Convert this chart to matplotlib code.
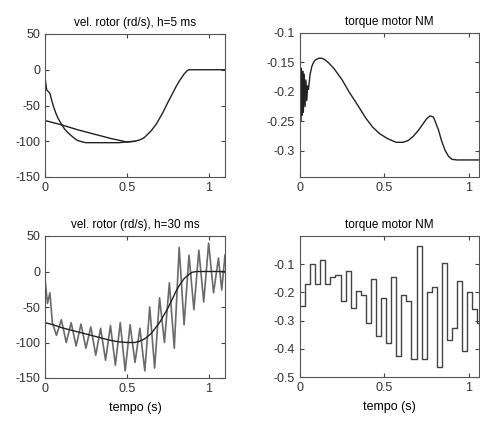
import numpy as np
import matplotlib
matplotlib.use('Agg')
import matplotlib.pyplot as plt

plt.rcParams['font.family'] = ['Liberation Sans', 'DejaVu Sans']
plt.rcParams['font.size'] = 9
plt.rcParams['axes.unicode_minus'] = False

# --- top left: rotor speed, h = 5 ms ---
t_ref5 = [0, 0.1, 0.2, 0.3, 0.4, 0.5, 0.55, 0.58, 0.6, 0.62, 0.65, 0.68, 0.7, 0.72,
          0.75, 0.78, 0.8, 0.82, 0.85, 0.87, 0.88, 1.1]
v_ref5 = [-71, -77, -84, -90, -96, -101, -100, -98, -96, -92, -85, -76, -68, -60,
          -46, -33, -24, -16, -6, -1, 0, 0]
t_act5 = [0, 0.01, 0.03, 0.04, 0.05, 0.065, 0.08, 0.1, 0.12, 0.14, 0.16, 0.18, 0.2,
          0.23, 0.25, 0.3, 0.45, 0.5, 0.55]
v_act5 = [-10, -28, -33, -42, -50, -60, -68, -76, -83, -88, -92, -96, -99,
          -101, -102, -102, -102, -101, -100]

# --- top right: torque, h = 5 ms ---
t_tq5 = [0, 0.004, 0.008, 0.012, 0.016, 0.02, 0.025, 0.03, 0.035, 0.04, 0.045, 0.05,
         0.06, 0.07, 0.08, 0.09, 0.11, 0.13, 0.15, 0.17, 0.2, 0.25, 0.29, 0.34, 0.39,
         0.43, 0.47, 0.52, 0.57, 0.61, 0.64, 0.67, 0.7, 0.73, 0.75, 0.77, 0.79, 0.8,
         0.82, 0.84, 0.86, 0.88, 0.9, 0.93, 1.1]
q_tq5 = [-0.17, -0.25, -0.16, -0.24, -0.165, -0.235, -0.17, -0.225, -0.18, -0.215, -0.19, -0.196,
         -0.17, -0.157, -0.15, -0.146, -0.143, -0.143, -0.146, -0.151, -0.16, -0.18, -0.2, -0.222, -0.245,
         -0.26, -0.271, -0.28, -0.286, -0.286, -0.283, -0.276, -0.266, -0.254, -0.246, -0.241, -0.243, -0.25,
         -0.265, -0.285, -0.3, -0.31, -0.315, -0.316, -0.316]

# --- bottom left: rotor speed, h = 30 ms ---
t_ref30 = [0, 0.05, 0.1, 0.15, 0.2, 0.25, 0.3, 0.35, 0.4, 0.45, 0.5, 0.55, 0.58, 0.6,
           0.62, 0.65, 0.68, 0.7, 0.72, 0.75, 0.78, 0.8, 0.82, 0.85, 0.88, 0.9, 0.93, 1.1]
v_ref30 = [-72, -75, -79, -82, -85, -88, -91, -94, -97, -99, -100, -100, -98, -96,
           -93, -87, -78, -72, -64, -52, -38, -28, -20, -10, -4, -1, 0, 0]
t_act30 = [0, 0.015, 0.03, 0.045, 0.07, 0.10, 0.13, 0.16, 0.19, 0.22, 0.25, 0.28, 0.31,
           0.34, 0.37, 0.40, 0.43, 0.46, 0.49, 0.52, 0.55, 0.58, 0.61, 0.64, 0.67,
           0.70, 0.73, 0.76, 0.79, 0.82, 0.85, 0.88, 0.91, 0.94, 0.97, 1.00, 1.03,
           1.06, 1.08, 1.1]
v_act30 = [-10, -45, -30, -72, -90, -68, -100, -72, -105, -74, -108, -78, -118,
           -80, -125, -76, -132, -72, -140, -75, -128, -80, -140, -50, -136,
           -37, -100, -16, -108, 34, -75, 23, -54, 30, -43, 40, -30,
           19, -26, 23]

# --- bottom right: torque, h = 30 ms (zero-order hold) ---
q_tq30 = [-0.248, -0.171, -0.10, -0.17, -0.085, -0.17, -0.145, -0.14, -0.23, -0.125,
          -0.254, -0.195, -0.21, -0.308, -0.153, -0.355, -0.22, -0.379, -0.145, -0.426,
          -0.21, -0.23, -0.436, -0.035, -0.436, -0.20, -0.18, -0.466, -0.094, -0.37,
          -0.325, -0.16, -0.409, -0.20, -0.26, -0.31]
h30 = 0.03
t_tq30 = np.arange(len(q_tq30) + 1) * h30
q_tq30_edges = q_tq30 + [q_tq30[-1]]

W, H = 480, 422
fig = plt.figure(figsize=(W / 100, H / 100), dpi=100)


def box(x0, x1, ytop, ybot):
    return [x0 / W, 1 - ybot / H, (x1 - x0) / W, (ybot - ytop) / H]


ax1 = fig.add_axes(box(45, 225, 34, 177))
ax2 = fig.add_axes(box(300, 479, 33, 177))
ax3 = fig.add_axes(box(45, 225, 236, 378))
ax4 = fig.add_axes(box(300, 479, 236, 377))

lc = '#222222'
ax1.plot(t_ref5, v_ref5, color=lc, lw=1.0)
ax1.plot(t_act5, v_act5, color=lc, lw=1.0)
ax1.set_ylim(-150, 50)
ax1.set_xlim(0, 1.1)
ax1.set_title('vel. rotor (rd/s), h=5 ms', fontsize=8.5, pad=6)

ax2.plot(t_tq5, q_tq5, color=lc, lw=1.0)
ax2.set_ylim(-0.345, -0.1)
ax2.set_xlim(0, 1.06)
ax2.set_yticks([-0.3, -0.25, -0.2, -0.15, -0.1])
ax2.set_yticklabels(['-0.3', '-0.25', '-0.2', '-0.15', '-0.1'])
ax2.set_title('torque motor NM', fontsize=8.5, pad=6)

ax3.plot(t_act30, v_act30, color='#6a6a6a', lw=1.2)
ax3.plot(t_ref30, v_ref30, color=lc, lw=1.0)
ax3.set_ylim(-150, 50)
ax3.set_xlim(0, 1.1)
ax3.set_title('vel. rotor (rd/s), h=30 ms', fontsize=8.5, pad=6)
ax3.set_xlabel('tempo (s)', fontsize=9, labelpad=5)

ax4.step(t_tq30, q_tq30_edges, where='post', color='#444444', lw=1.0)
ax4.set_ylim(-0.5, 0)
ax4.set_xlim(0, 1.06)
ax4.set_yticks([-0.5, -0.4, -0.3, -0.2, -0.1])
ax4.set_yticklabels(['-0.5', '-0.4', '-0.3', '-0.2', '-0.1'])
ax4.set_title('torque motor NM', fontsize=8.5, pad=6)
ax4.set_xlabel('tempo (s)', fontsize=9, labelpad=5)

for ax in (ax1, ax2, ax3, ax4):
    ax.set_xticks([0, 0.5, 1])
    ax.set_xticklabels(['0', '0.5', '1'])
    ax.tick_params(direction='in', top=True, right=True, length=3,
                   labelsize=9, colors='#444444', labelcolor='#333333')
    for s in ax.spines.values():
        s.set_color('#555555')
        s.set_linewidth(0.8)

plt.savefig('out.png', dpi=100)
